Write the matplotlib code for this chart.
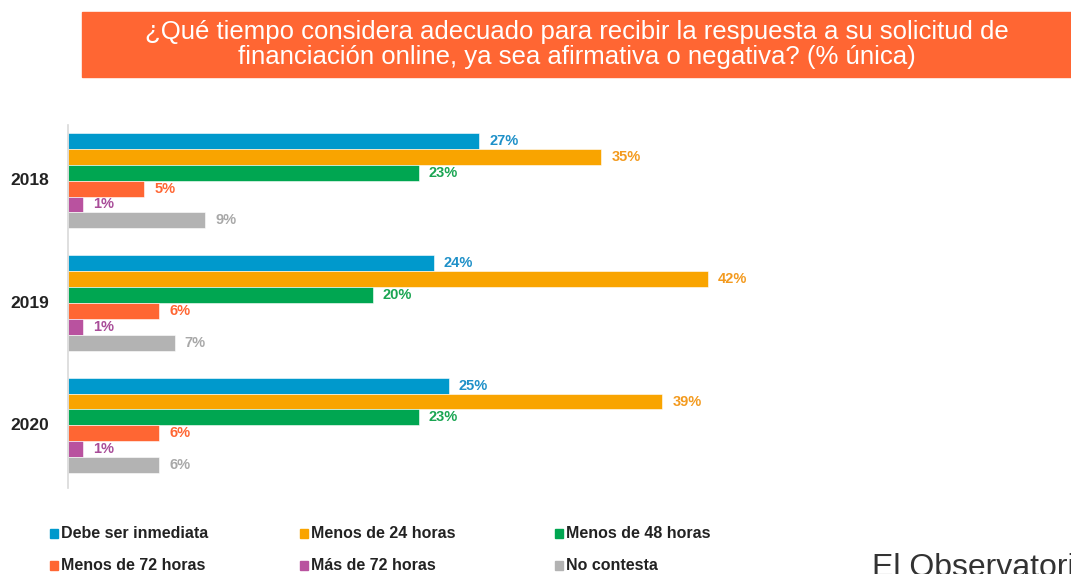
import matplotlib
matplotlib.use("Agg")
import matplotlib.pyplot as plt
from matplotlib.patches import Rectangle

years = ["2018", "2019", "2020"]
categories = ["Debe ser inmediata", "Menos de 24 horas", "Menos de 48 horas",
              "Menos de 72 horas", "Más de 72 horas", "No contesta"]
values = {
    "2018": [27, 35, 23, 5, 1, 9],
    "2019": [24, 42, 20, 6, 1, 7],
    "2020": [25, 39, 23, 6, 1, 6],
}
colors = ["#0099CC", "#F9A400", "#00A651", "#FF6633", "#B9529F", "#B3B3B3"]
label_colors = ["#1E90C8", "#F39A1E", "#1AA552", "#FF6633", "#A84C98", "#A8A8A8"]
title = ("¿Qué tiempo considera adecuado para recibir la respuesta a su solicitud de\n"
         "financiación online, ya sea afirmativa o negativa? (% única)")

W, H = 1071, 574
fig = plt.figure(figsize=(W / 100, H / 100), dpi=100)

arial = ["Liberation Sans", "DejaVu Sans"]

# title banner
fig.patches.append(Rectangle((82 / W, 1 - 77 / H), (W - 82) / W, 65 / H,
                             transform=fig.transFigure, color="#FF6633", zorder=0))
fig.text((82 + W) / 2 / W, 1 - 44.5 / H, title, ha="center", va="center",
         color="white", fontsize=18.5, family=arial, linespacing=1.08)

ax = fig.add_axes([68 / W, (H - 488) / H, 1000 / W, 363 / H])
pitch = 7.7
for i, yr in enumerate(years):
    for j, v in enumerate(values[yr]):
        y = i * pitch + j
        ax.barh(y, v, height=1.0, color=colors[j], edgecolor="white", linewidth=0.4)
        ax.text(v + 0.65, y, f"{v}%", color=label_colors[j], fontsize=10.5,
                fontweight="bold", va="center", ha="left", family=arial)
    ax.text(-2.5, i * pitch + 2.5, yr, ha="center", va="center", fontsize=12.5,
            fontweight="bold", color="#222222", family=arial)

ax.set_xlim(0, 1000 / 15.24)
ax.set_ylim(2 * pitch + 5 + 0.5 + 0.94, -1.0)
ax.set_xticks([])
ax.set_yticks([])
for s in ["top", "right", "bottom"]:
    ax.spines[s].set_visible(False)
ax.spines["left"].set_color("#D9D9D9")
ax.spines["left"].set_linewidth(1.2)

# legend
col_x = [50, 300, 555]
row_y = [533, 565]
for k, (cat, c) in enumerate(zip(categories, colors)):
    x = col_x[k % 3]
    y = row_y[k // 3]
    fig.patches.append(Rectangle((x / W, 1 - (y + 4.5) / H), 8 / W, 9 / H,
                                 transform=fig.transFigure, color=c))
    fig.text((x + 11) / W, 1 - y / H, cat, ha="left", va="center", fontsize=11.5,
             fontweight="bold", color="#222222", family=arial)

fig.text(872 / W, 1 - 553 / H, "El Observatori", ha="left", va="top",
         fontsize=23, color="#333333", family=arial)

fig.savefig("out.png", dpi=100)
